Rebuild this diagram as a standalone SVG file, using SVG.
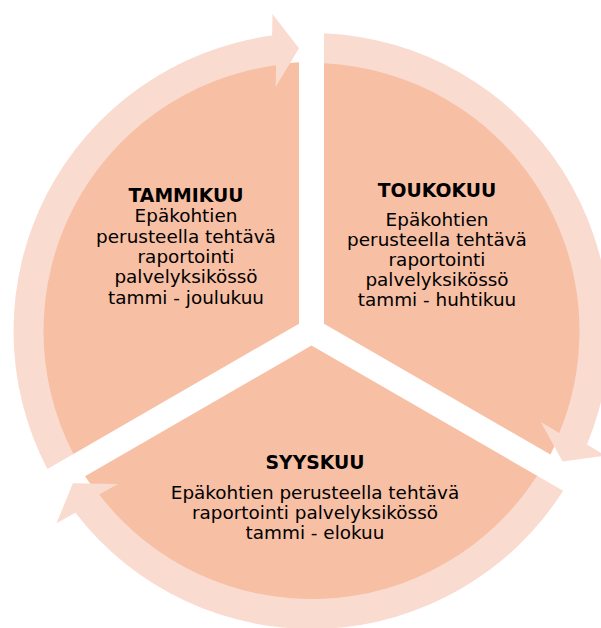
<svg xmlns="http://www.w3.org/2000/svg" xmlns:xlink="http://www.w3.org/1999/xlink" width="601" height="628" viewBox="0 0 601 628">
  <style>
    .seg { fill: #F7BFA4; }
    .arrow { fill: #FADBD0; }
    text { font-family: "DejaVu Sans", Verdana, sans-serif; font-size: 18.4px; fill: #000; text-anchor: middle; }
    .title { font-weight: bold; font-size: 18.8px; }
  </style>
  <defs>
    <path id="sector" d="M 299 323.78 L 72.54 454.53 A 269 269 0 0 1 299 62.29 Z"/>
    <path id="carrow" d="M 73.41 454.03 L 47.40 469.04 A 298 298 0 0 1 272.09 35.62 L 272.46 14.02 L 299.0 48.27 L 275.68 86.94 L 276.05 65.35 A 268 268 0 0 0 73.41 454.03 Z"/>
  </defs>
  <rect width="601" height="628" fill="#fff"/>
  <g id="node-tammikuu">
    <use xlink:href="#sector" class="seg"/>
  </g>
  <g id="node-toukokuu">
    <use xlink:href="#sector" class="seg" transform="rotate(120 311.5 331)"/>
  </g>
  <g id="node-syyskuu">
    <use xlink:href="#sector" class="seg" transform="rotate(240 311.5 331)"/>
  </g>
  <g id="connectors">
    <use xlink:href="#carrow" class="arrow"/>
    <use xlink:href="#carrow" class="arrow" transform="rotate(120 311.5 331)"/>
    <use xlink:href="#carrow" class="arrow" transform="rotate(240 311.5 331)"/>
  </g>
  <g id="labels-tammikuu">
    <text class="title" x="186" y="202">TAMMIKUU</text>
    <text x="186" y="222.3">Epäkohtien</text>
    <text x="186" y="242.6">perusteella tehtävä</text>
    <text x="186" y="263">raportointi</text>
    <text x="186" y="283.2">palvelyksikössö</text>
    <text x="186" y="303.5">tammi - joulukuu</text>
  </g>
  <g id="labels-toukokuu">
    <text class="title" x="437" y="197">TOUKOKUU</text>
    <text x="437" y="226.3">Epäkohtien</text>
    <text x="437" y="246.1">perusteella tehtävä</text>
    <text x="437" y="265.9">raportointi</text>
    <text x="437" y="285.7">palvelyksikössö</text>
    <text x="437" y="305.5">tammi - huhtikuu</text>
  </g>
  <g id="labels-syyskuu">
    <text class="title" x="315" y="468.5">SYYSKUU</text>
    <text x="315" y="499.3">Epäkohtien perusteella tehtävä</text>
    <text x="315" y="519.2">raportointi palvelyksikössö</text>
    <text x="315" y="539">tammi - elokuu</text>
  </g>
</svg>
